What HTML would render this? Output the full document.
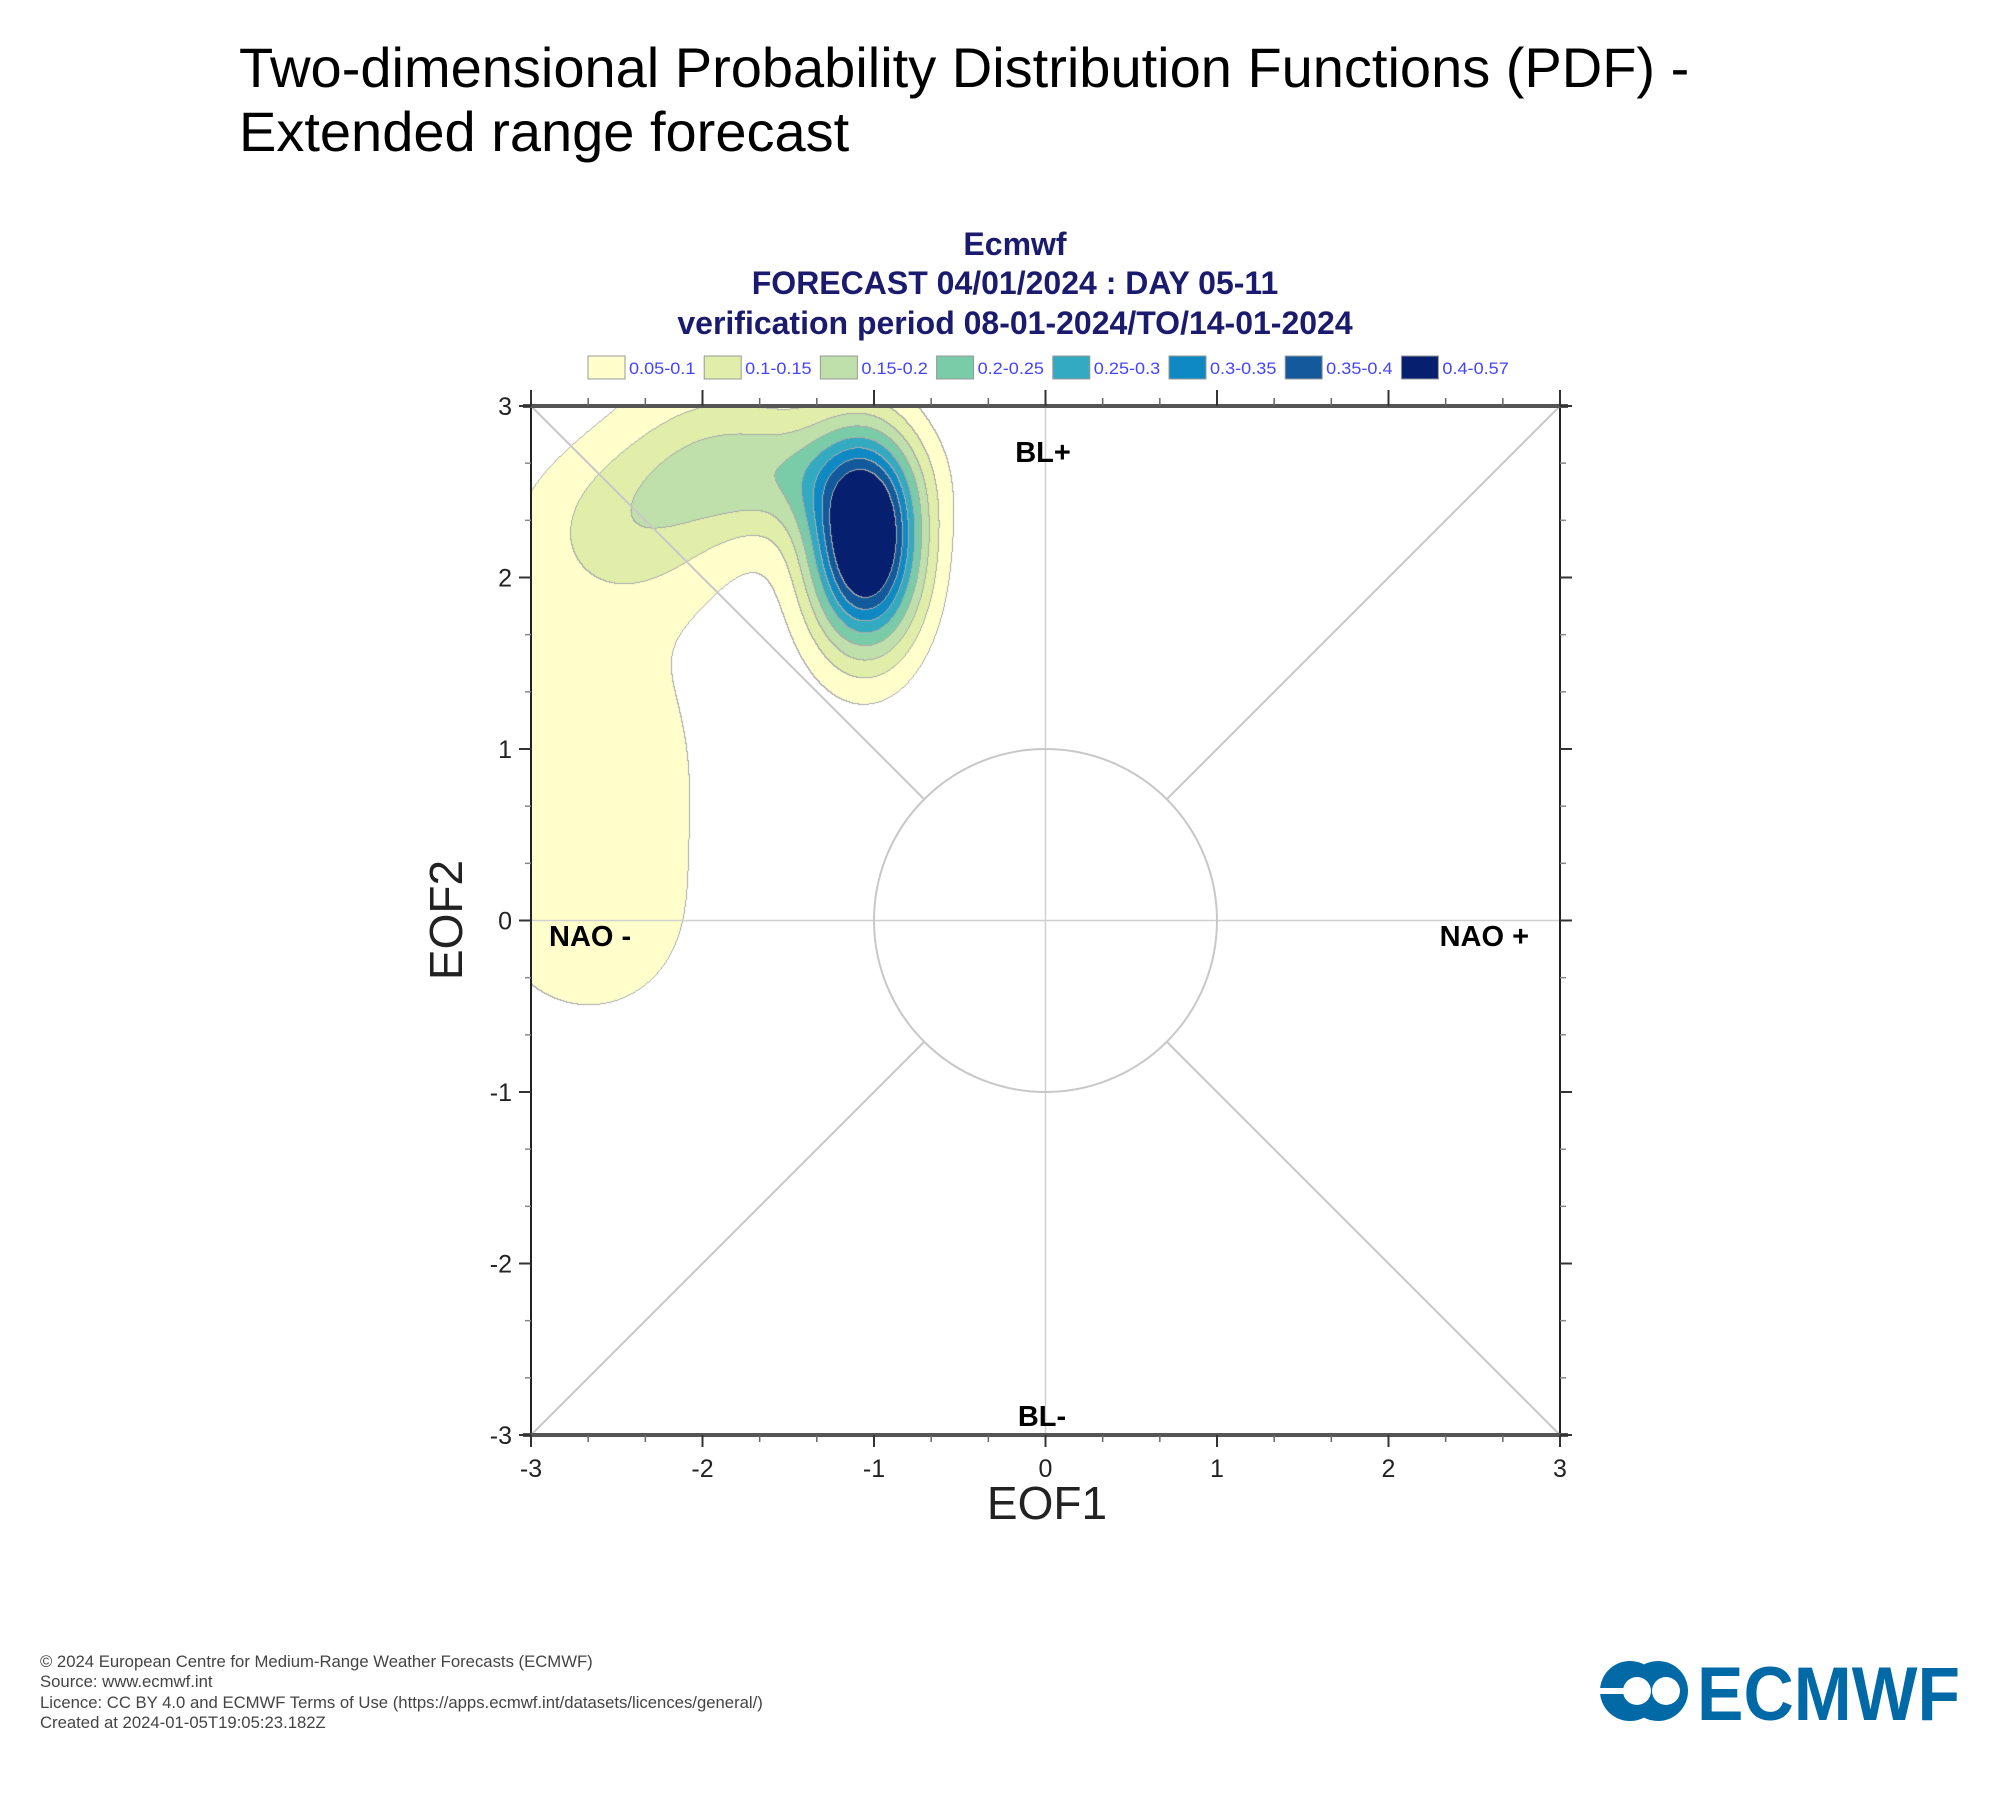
<!DOCTYPE html>
<html><head><meta charset="utf-8"><style>
body{margin:0;background:#fff;width:2000px;height:1800px;overflow:hidden;position:relative;font-family:"Liberation Sans",sans-serif}
#field{position:absolute;left:531px;top:406px}
svg{position:absolute;left:0;top:0}
</style></head><body>
<canvas id="field" width="1029" height="1029"></canvas>
<svg id="chart" width="2000" height="1800">
<text x="239" y="87" font-size="56" fill="#000">Two-dimensional Probability Distribution Functions (PDF) -</text>
<text x="239" y="151" font-size="56" fill="#000">Extended range forecast</text>
<g font-weight="bold" fill="#1a1a6e" text-anchor="middle" font-size="32">
<text x="1015" y="255">Ecmwf</text>
<text x="1015" y="294">FORECAST 04/01/2024 : DAY 05-11</text>
<text x="1015" y="334">verification period 08-01-2024/TO/14-01-2024</text>
</g>
<g id="legend"></g>
<g id="guides"></g>
<g id="axes"></g>
<g font-weight="bold" font-size="29" fill="#000">
<text x="549" y="946">NAO -</text>
<text x="1529" y="946" text-anchor="end">NAO +</text>
<text x="1043" y="462" text-anchor="middle">BL+</text>
<text x="1042" y="1426" text-anchor="middle">BL-</text>
</g>
<text x="1047" y="1519" font-size="46" text-anchor="middle" fill="#222">EOF1</text>
<text x="0" y="0" font-size="46" text-anchor="middle" fill="#222" transform="translate(462,920) rotate(-90)">EOF2</text>
<g font-size="16.7" fill="#444">
<text x="40" y="1667">© 2024 European Centre for Medium-Range Weather Forecasts (ECMWF)</text>
<text x="40" y="1687">Source: www.ecmwf.int</text>
<text x="40" y="1708">Licence: CC BY 4.0 and ECMWF Terms of Use (https://apps.ecmwf.int/datasets/licences/general/)</text>
<text x="40" y="1728">Created at 2024-01-05T19:05:23.182Z</text>
</g>
<g>
<circle cx="1630" cy="1691" r="30" fill="#0069a6"/>
<circle cx="1658" cy="1691" r="30" fill="#0069a6"/>
<circle cx="1637" cy="1691" r="14" fill="#fff"/>
<circle cx="1666" cy="1691" r="14" fill="#fff"/>
<rect x="1598" y="1688" width="30" height="6" fill="#fff"/>
<text x="1697" y="1720" font-size="76" font-weight="bold" fill="#0069a6" textLength="263" lengthAdjust="spacingAndGlyphs">ECMWF</text>
</g>
</svg>
<script>
// density model components
const compX=[-1.05,-1.6,-2.4,-2.72,-2.6,-1.9];
const compY=[2.2,2.6,2.28,0.8,-0.1,2.95];
const compSX=[0.23,0.52,0.42,0.62,0.4,0.45];
const compSY=[0.43,0.25,0.32,1.0,0.35,0.4];
const compA=[0.52,0.13,0.095,0.085,0.025,0.065];
const levels=[0.05,0.1,0.15,0.2,0.25,0.3,0.35,0.4];
const levelLabels=["0.05-0.1","0.1-0.15","0.15-0.2","0.2-0.25","0.25-0.3","0.3-0.35","0.35-0.4","0.4-0.57"];
const levelColors=["#ffffcc","#e0eeaa","#bfe0ab","#79cca7","#34aac0","#0f89c3","#125a9b","#061f6e"];
const xTicks=[-3,-2,-1,0,1,2,3];
const yTicks=[-3,-2,-1,0,1,2,3];

const L=531,R=1560,T=406,B=1435;
const sx=v=>L+(v+3)/6*(R-L);
const sy=v=>B-(v+3)/6*(B-T);
const NS="http://www.w3.org/2000/svg";
function mk(tag,attrs,parent){const e=document.createElementNS(NS,tag);for(const k in attrs)e.setAttribute(k,attrs[k]);parent.appendChild(e);return e;}

// field
const cv=document.getElementById('field'),ctx=cv.getContext('2d');
const W=cv.width,H=cv.height,img=ctx.createImageData(W,H);
const lev=new Int8Array(W*H);
function dens(x,y){let s=0;for(let i=0;i<compX.length;i++){const dx=(x-compX[i])/compSX[i],dy=(y-compY[i])/compSY[i];s+=compA[i]*Math.exp(-0.5*(dx*dx+dy*dy));}return s;}
const rgb=levelColors.map(c=>[parseInt(c.substr(1,2),16),parseInt(c.substr(3,2),16),parseInt(c.substr(5,2),16)]);
for(let j=0;j<H;j++)for(let i=0;i<W;i++){const x=-3+i/W*6,y=3-j/H*6;const d=dens(x,y);let k=-1;for(let m=0;m<levels.length;m++)if(d>=levels[m])k=m;lev[j*W+i]=k;}
for(let j=0;j<H;j++)for(let i=0;i<W;i++){const p=j*W+i,k=lev[p];let c=[255,255,255];
 if(k>=0)c=rgb[k];
 const edge=(i+1<W&&lev[p+1]!==k)||(j+1<H&&lev[p+W]!==k);
 if(edge&&(k>=0||(i+1<W&&lev[p+1]>=0)||(j+1<H&&lev[p+W]>=0)))c=[170,170,170];
 img.data[p*4]=c[0];img.data[p*4+1]=c[1];img.data[p*4+2]=c[2];img.data[p*4+3]=255;}
ctx.putImageData(img,0,0);

// legend
const lg=document.getElementById('legend');
levelLabels.forEach((t,i)=>{const x=588+i*116.2;
 const r=mk('rect',{x:x,y:356,width:37,height:23,fill:levelColors[i],stroke:'#999','stroke-width':1},lg);
 
 
 const tx=mk('text',{x:x+41,y:374,'font-size':17,fill:'#4444ff',textLength:t.length*8.3,lengthAdjust:'spacingAndGlyphs'},lg);tx.textContent=t;
 
 
});

// guides
const gd=document.getElementById('guides');
const cx=sx(0),cy=sy(0),rr=sx(1)-sx(0),c45=Math.SQRT1_2*rr;
mk('line',{x1:sx(0),y1:T,x2:sx(0),y2:B,stroke:'#d0d0d0','stroke-width':1.5},gd);
mk('line',{x1:L,y1:sy(0),x2:R,y2:sy(0),stroke:'#d0d0d0','stroke-width':1.5},gd);
mk('circle',{cx:cx,cy:cy,r:rr,fill:'none',stroke:'#c8c8c8','stroke-width':2},gd);
[[L,T,-1,-1],[R,T,1,-1],[L,B,-1,1],[R,B,1,1]].forEach(([x,y,dx,dy])=>{
 mk('line',{x1:x,y1:y,x2:cx+dx*c45,y2:cy+dy*c45,stroke:'#c8c8c8','stroke-width':2},gd);});

// axes
const ax=document.getElementById('axes');
mk('rect',{x:L,y:T,width:R-L,height:B-T,fill:'none',stroke:'#222','stroke-width':2},ax);
mk('line',{x1:L-8,y1:T,x2:R+8,y2:T,stroke:'#555','stroke-width':4},ax);
mk('line',{x1:L-8,y1:B,x2:R+8,y2:B,stroke:'#555','stroke-width':4},ax);
xTicks.forEach(v=>{const x=sx(v);
 mk('line',{x1:x,y1:T,x2:x,y2:T-16,stroke:'#333','stroke-width':2},ax);
 mk('line',{x1:x,y1:B,x2:x,y2:B+12,stroke:'#333','stroke-width':2},ax);
 const t=mk('text',{x:x,y:1477,'font-size':25,'text-anchor':'middle',fill:'#222'},ax);t.textContent=v;
 
 
 if(v<3)for(let m=1;m<3;m++){const xm=sx(v+m/3);
  mk('line',{x1:xm,y1:T,x2:xm,y2:T-8,stroke:'#666','stroke-width':1.5},ax);
  mk('line',{x1:xm,y1:B,x2:xm,y2:B+7,stroke:'#666','stroke-width':1.5},ax);}
});
yTicks.forEach(v=>{const y=sy(v);
 mk('line',{x1:L,y1:y,x2:L-12,y2:y,stroke:'#333','stroke-width':2},ax);
 mk('line',{x1:R,y1:y,x2:R+12,y2:y,stroke:'#333','stroke-width':2},ax);
 const t=mk('text',{x:512,y:y+9,'font-size':25,'text-anchor':'end',fill:'#222'},ax);t.textContent=v;
 
 
 if(v<3)for(let m=1;m<3;m++){const ym=sy(v+m/3);
  mk('line',{x1:L,y1:ym,x2:L-6,y2:ym,stroke:'#888','stroke-width':1.5},ax);
  mk('line',{x1:R,y1:ym,x2:R+6,y2:ym,stroke:'#888','stroke-width':1.5},ax);}
});
</script>
</body></html>
